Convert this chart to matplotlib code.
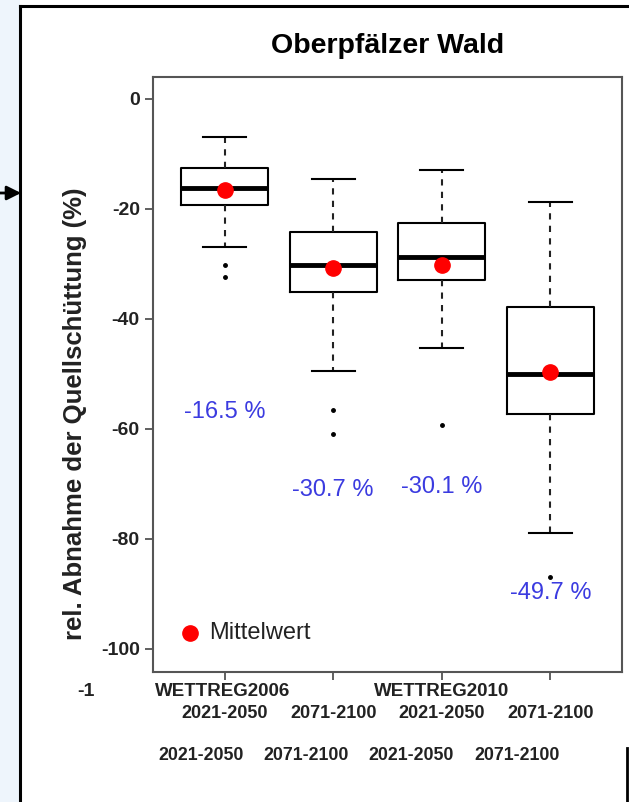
import matplotlib
matplotlib.use('Agg')
import matplotlib.pyplot as plt
from matplotlib.lines import Line2D
from matplotlib.patches import Rectangle, FancyArrowPatch

plt.rcParams['font.family'] = ['Liberation Sans', 'DejaVu Sans']

# Boxplot-Kennwerte
gruppen = ['WETTREG2006 2021-2050', 'WETTREG2006 2071-2100',
           'WETTREG2010 2021-2050', 'WETTREG2010 2071-2100']
whisker_oben = [-6.9, -14.6, -12.9, -18.7]
q3 = [-12.5, -24.1, -22.5, -37.9]
median = [-16.2, -30.2, -28.8, -50.1]
q1 = [-19.2, -35.1, -32.9, -57.3]
whisker_unten = [-26.9, -49.5, -45.3, -78.9]
ausreisser = [[-30.2, -32.3], [-56.5, -60.9], [-59.3], [-86.9]]
mittelwert = [-16.5, -30.7, -30.1, -49.7]
mittel_text = ['-16.5 %', '-30.7 %', '-30.1 %', '-49.7 %']
mittel_text_y = [-56.9, -71.1, -70.5, -89.8]

modelle = ['WETTREG2006', 'WETTREG2010']
zeitraeume = ['2021-2050', '2071-2100', '2021-2050', '2071-2100']
yticks = [0, -20, -40, -60, -80, -100]

fig = plt.figure(figsize=(6.29, 8.02), dpi=100)

# Rahmen / Hintergrund wie im Screenshot
fig.add_artist(Rectangle((0, 0), 20 / 629, 1, transform=fig.transFigure,
                         facecolor='#eef5fc', edgecolor='none', zorder=0))
fig.add_artist(Line2D([20 / 629, 20 / 629], [0, 1 - 6 / 802], color='k', lw=2.2,
                      transform=fig.transFigure))
fig.add_artist(Line2D([20 / 629, 1], [1 - 6 / 802, 1 - 6 / 802], color='k', lw=2.2,
                      transform=fig.transFigure))
fig.add_artist(Line2D([627 / 629, 627 / 629], [0, 1 - 748 / 802], color='k', lw=2,
                      transform=fig.transFigure))
fig.add_artist(FancyArrowPatch((0, 1 - 193 / 802), (21 / 629, 1 - 193 / 802),
                               transform=fig.transFigure,
                               arrowstyle='-|>,head_length=0.5,head_width=0.25',
                               mutation_scale=17, color='k', lw=2,
                               shrinkA=0, shrinkB=0))

ax = fig.add_axes([153 / 629, 1 - 672 / 802, 469 / 629, 595 / 802])

stats = []
for i in range(len(gruppen)):
    stats.append({'label': gruppen[i], 'whislo': whisker_unten[i], 'q1': q1[i],
                  'med': median[i], 'q3': q3[i], 'whishi': whisker_oben[i],
                  'fliers': ausreisser[i]})

pos = [1, 2, 3, 4]
ax.bxp(stats, positions=pos, widths=0.8, capwidths=0.4, showfliers=True,
       boxprops=dict(color='k', lw=1.5),
       medianprops=dict(color='k', lw=3.5),
       whiskerprops=dict(color='#222222', lw=1.5, linestyle=(0, (3, 3))),
       capprops=dict(color='k', lw=1.5),
       flierprops=dict(marker='o', markersize=2.5, markerfacecolor='k',
                       markeredgecolor='k'))

ax.plot(pos, mittelwert, 'o', color='red', markersize=11, zorder=5)

for i in range(len(pos)):
    ax.text(pos[i], mittel_text_y[i], mittel_text[i], color='#3b3be0',
            fontsize=17, ha='center', va='center')

# Legende
ax.plot([0.685], [-97.1], 'o', color='red', markersize=11)
ax.text(0.86, -97.1, 'Mittelwert', fontsize=17, va='center', color='#222222')

ax.set_xlim(0.34, 4.66)
ax.set_ylim(-104.2, 4)
ax.set_yticks(yticks)
ax.set_yticklabels([str(t) for t in yticks], fontsize=14, fontweight='bold',
                   color='#222222')
ax.set_xticks(pos)
ax.set_xticklabels([])
ax.tick_params(axis='both', length=6, width=1.2, color='#444444')
for s in ax.spines.values():
    s.set_color('#555555')
    s.set_linewidth(1.5)

ax.set_title('Oberpfälzer Wald', fontsize=20.5, fontweight='bold', pad=17)

# Achsenbeschriftungen unten
modell_x = [0.98, 3.0]
for m, x in zip(modelle, modell_x):
    ax.text(x, -107.8, m, fontsize=13.5, fontweight='bold', ha='center',
            va='center', color='#222222', clip_on=False)
for z, x in zip(zeitraeume, pos):
    ax.text(x, -111.8, z, fontsize=13, fontweight='bold', ha='center',
            va='center', color='#222222', clip_on=False)
zeile2_x = [0.78, 1.75, 2.72, 3.69]
for z, x in zip(zeitraeume, zeile2_x):
    ax.text(x, -119.3, z, fontsize=12.8, fontweight='bold', ha='center',
            va='center', color='#222222', clip_on=False)

fig.text(95 / 629, 1 - 692 / 802, '-1', fontsize=14, fontweight='bold',
         ha='right', va='center', color='#222222')
fig.text(75 / 629, 1 - 414 / 802, 'rel. Abnahme der Quellschüttung (%)',
         rotation=90, fontsize=18.5, fontweight='bold', ha='center', va='center',
         color='#222222')

fig.savefig('out.png', dpi=100)
